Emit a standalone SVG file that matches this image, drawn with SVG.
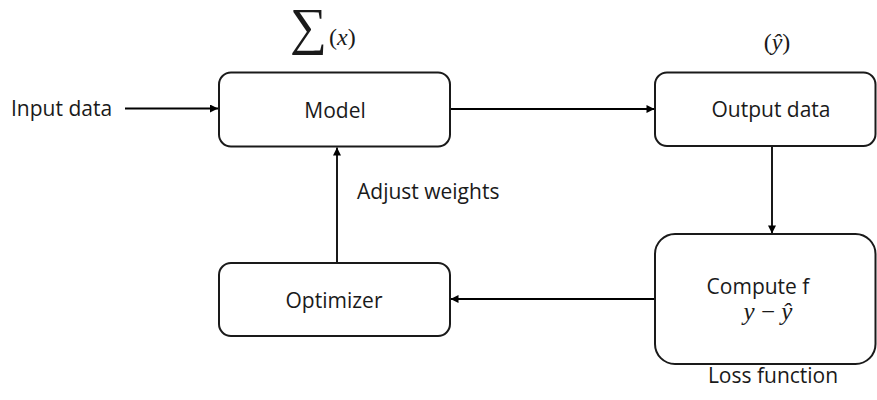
<svg xmlns="http://www.w3.org/2000/svg" width="877" height="400" viewBox="0 0 877 400">
  <defs>
    <marker id="arrow" viewBox="0 0 10 10" refX="10" refY="5" markerWidth="9" markerHeight="8" markerUnits="userSpaceOnUse" orient="auto">
      <path d="M0,0 L10,5 L0,10 z" fill="#000"/>
    </marker>
  </defs>
  <style>
    .box { fill: #fff; stroke: #1a1a1a; stroke-width: 2; }
    .lbl { font-family: "Open Sans", "Liberation Sans", sans-serif; font-size: 21px; fill: #1a1a1a; }
    .math { font-family: "Liberation Serif", "DejaVu Serif", serif; fill: #1a1a1a; }
    .edge { stroke: #000; stroke-width: 1.8; fill: none; marker-end: url(#arrow); }
  </style>
  <rect width="877" height="400" fill="#fff"/>

  <!-- connectors -->
  <g id="connectors">
    <line class="edge" x1="125" y1="108.5" x2="218" y2="108.5"/>
    <line class="edge" x1="450" y1="109" x2="654.5" y2="109"/>
    <line class="edge" x1="772" y1="146" x2="772" y2="233.5"/>
    <line class="edge" x1="655" y1="299" x2="450.5" y2="299"/>
    <line class="edge" x1="337" y1="263" x2="337" y2="147.5"/>
  </g>

  <!-- input label -->
  <g id="input">
    <text class="lbl" x="11" y="116">Input data</text>
  </g>

  <!-- model -->
  <g id="model">
    <rect class="box" x="219" y="72.5" width="231" height="74" rx="12"/>
    <text class="lbl" x="335" y="118" text-anchor="middle">Model</text>
    <text class="math" x="290" y="44" font-size="52">∑</text>
    <text class="math" x="329" y="45" font-size="24">(<tspan font-style="italic">x</tspan>)</text>
  </g>

  <!-- output -->
  <g id="output">
    <rect class="box" x="655" y="72.5" width="220.5" height="73.5" rx="12"/>
    <text class="lbl" x="771" y="117" text-anchor="middle">Output data</text>
    <text class="math" x="777" y="50" font-size="24" text-anchor="middle">(<tspan font-style="italic">ŷ</tspan>)</text>
  </g>

  <!-- loss -->
  <g id="loss">
    <rect class="box" x="655" y="234" width="220.5" height="130" rx="20"/>
    <text class="lbl" x="758" y="294" text-anchor="middle">Compute f</text>
    <text class="math" x="768" y="320" font-size="25" text-anchor="middle" font-style="italic">y <tspan font-style="normal">−</tspan> ŷ</text>
    <text class="lbl" x="773" y="383" text-anchor="middle">Loss function</text>
  </g>

  <!-- optimizer -->
  <g id="optimizer">
    <rect class="box" x="219" y="263" width="231" height="73" rx="12"/>
    <text class="lbl" x="334" y="308" text-anchor="middle">Optimizer</text>
    <text class="lbl" x="357" y="199">Adjust weights</text>
  </g>
</svg>
